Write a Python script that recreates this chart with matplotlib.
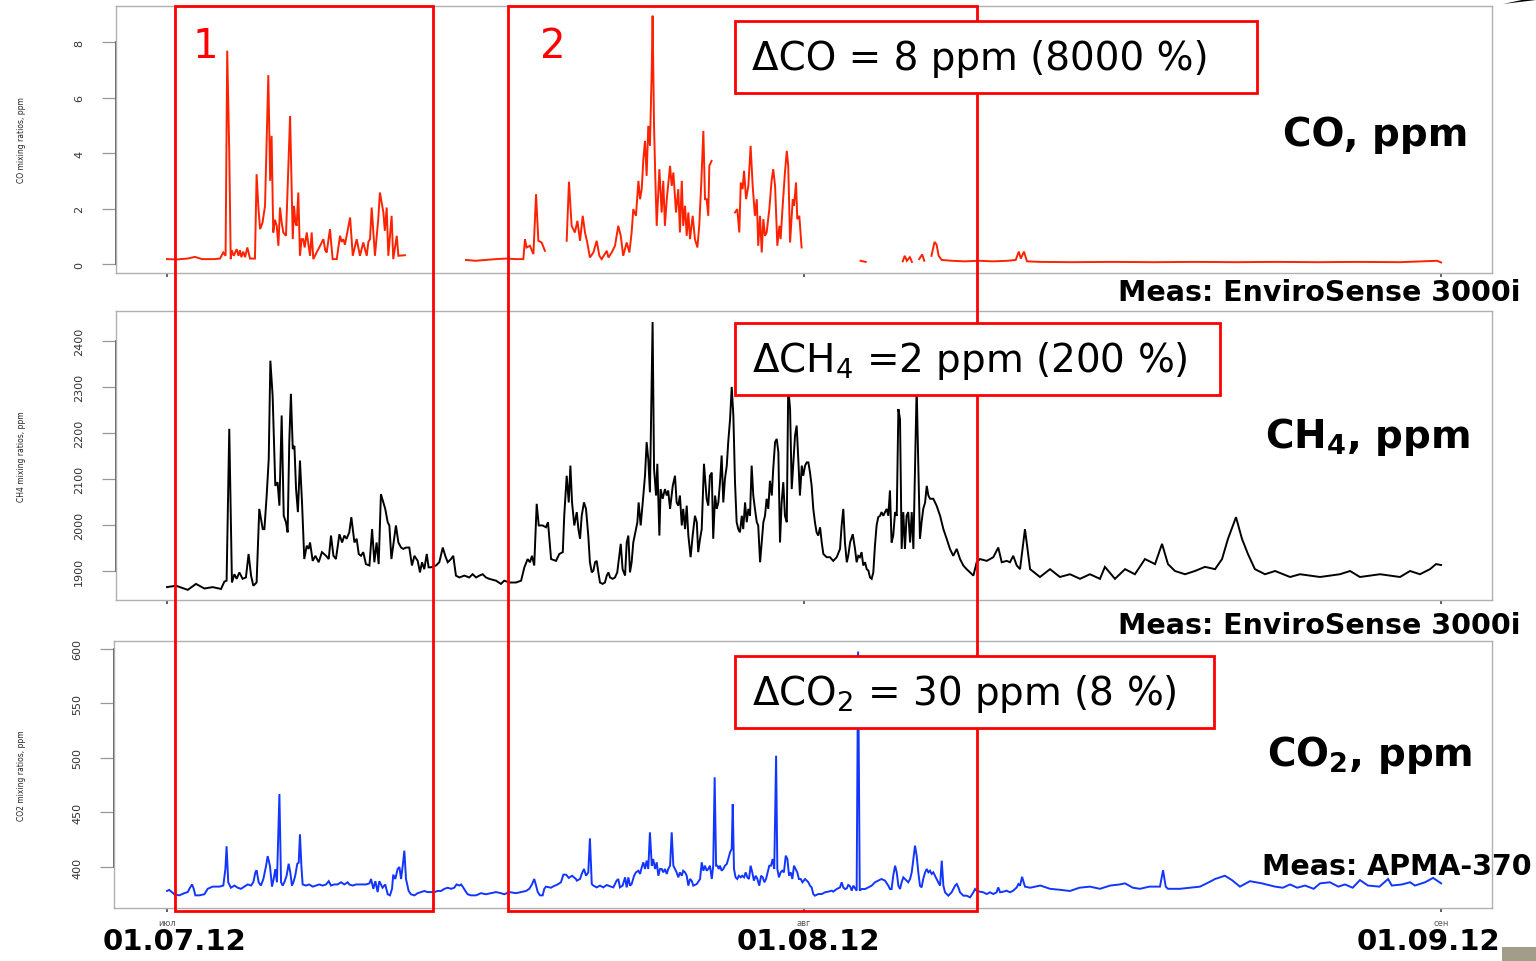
import numpy as np
import matplotlib
matplotlib.use('Agg')
import matplotlib.pyplot as plt
from matplotlib.patches import Rectangle, Polygon

plt.rcParams['font.family'] = ['DejaVu Sans']
plt.rcParams['mathtext.default'] = 'regular'

nan = np.nan

# ---------------- data (x = days since 01.07.2012) ----------------
co_day = [0.0, 0.5, 1.0, 1.36, 1.7, 2.3, 2.58, 2.74, 2.85, 2.93, 3.03, 3.10, 3.15, 3.25, 3.39, 3.48,
          3.55, 3.62, 3.71, 3.8, 3.91, 4.04, 4.28, 4.36, 4.45, 4.53, 4.65, 4.77, 4.93, 5.02, 5.09,
          5.17, 5.25, 5.34, 5.42, 5.50, 5.58, 5.66, 5.79, 5.99, 6.12, 6.18, 6.25, 6.31, 6.39, 6.47,
          6.55, 6.63, 6.70, 6.80, 6.96, 7.04, 7.12, 7.28, 7.45, 7.61, 7.70, 7.77, 7.93, 8.06, 8.26,
          8.42, 8.50, 8.58, 8.66, 8.74, 8.91, 9.04, 9.23, 9.39, 9.55, 9.72, 9.80, 9.88, 9.96, 10.12,
          10.28, 10.36, 10.53, 10.60, 10.69, 10.77, 10.93, 11.01, 11.18, 11.26, 11.58,
          13.0,
          14.55, 15.0, 15.5, 16.0, 16.5, 17.0, 17.34, 17.42, 17.50, 17.66, 17.83, 17.96, 18.07, 18.23,
          18.39,
          18.9,
          19.45, 19.56, 19.69, 19.85, 19.97, 20.10, 20.23, 20.34, 20.45, 20.58, 20.75, 20.91, 21.04,
          21.15, 21.40, 21.48, 21.64, 21.80, 21.96, 22.08, 22.20, 22.37, 22.50, 22.61, 22.69, 22.82,
          22.94, 23.02, 23.10, 23.18, 23.26, 23.34, 23.42, 23.50, 23.59, 23.63, 23.70, 23.76, 23.83,
          23.96, 24.07, 24.15, 24.23, 24.32, 24.48, 24.56, 24.64, 24.77, 24.88, 24.96, 25.05, 25.12,
          25.21, 25.29, 25.37, 25.45, 25.58, 25.69, 25.81, 25.90, 26.00, 26.10, 26.18, 26.26, 26.34,
          26.39, 26.50,
          27.0,
          27.64, 27.75, 27.85, 27.92, 28.01, 28.08, 28.18, 28.29, 28.40, 28.50, 28.61, 28.70, 28.77,
          28.86, 28.94, 29.02, 29.10, 29.18, 29.31, 29.42, 29.50, 29.59, 29.70, 29.80, 29.86, 29.96,
          30.07, 30.16, 30.23, 30.32, 30.45, 30.51, 30.61, 30.67, 30.77, 30.88,
          32.0,
          33.75, 34.0,
          34.5,
          35.8, 35.9, 36.0, 36.15, 36.25,
          36.4,
          36.6, 36.75, 36.85,
          37.0,
          37.2, 37.35, 37.45, 37.55, 37.7, 38.2, 38.8, 39.5, 40.2, 40.9, 41.3, 41.45, 41.55, 41.7,
          41.85, 42.5, 44.0, 46.0, 48.0, 50.0, 52.0, 54.0, 56.0, 58.0, 60.0, 61.8, 62.0]
co_val = [0.18, 0.17, 0.2, 0.26, 0.18, 0.18, 0.2, 0.42, 0.3, 7.69, 4.0, 0.18, 0.5, 0.3, 0.54, 0.3,
          0.5, 0.25, 0.45, 0.25, 0.6, 0.2, 0.2, 3.24, 2.0, 1.26, 1.5, 2.10, 6.81, 3.0, 4.62,
          1.14, 1.6, 1.38, 0.66, 2.04, 1.5, 1.14, 1.02, 5.34, 0.90, 2.10, 1.5, 1.38, 2.58, 0.30,
          0.9, 0.90, 0.6, 1.14, 0.30, 1.14, 0.18, 0.42, 0.66, 0.90, 0.5, 0.42, 1.26, 0.18, 0.18,
          1.02, 0.8, 0.90, 0.7, 1.02, 1.68, 0.30, 0.90, 0.30, 0.78, 0.30, 0.8, 0.90, 2.04, 0.30,
          1.62, 2.58, 1.86, 1.2, 2.04, 0.30, 1.74, 0.18, 1.02, 0.30, 0.32,
          nan,
          0.15, 0.12, 0.15, 0.18, 0.2, 0.18, 0.18, 0.90, 0.60, 0.66, 0.36, 2.52, 0.84, 0.78,
          0.48,
          nan,
          0.84, 2.97, 1.38, 1.14, 1.56, 0.84, 1.74, 1.14, 0.78, 0.24, 0.42, 0.84, 0.30,
          0.18, 0.48, 0.24, 0.42, 0.66, 1.38, 1.02, 0.30, 0.78, 0.42, 1.14, 1.98, 1.74,
          3.00, 2.34, 2.70, 3.78, 4.44, 3.18, 4.98, 4.26, 7.03, 8.95, 4.98, 3.18, 1.38,
          3.42, 1.86, 3.00, 1.38, 2.34, 3.54, 2.82, 3.30, 1.86, 2.70, 1.14, 3.00, 1.38,
          2.10, 1.02, 1.86, 0.90, 1.74, 0.90, 0.60, 1.38, 2.94, 4.80, 2.34, 2.34, 1.74,
          3.54, 3.72,
          nan,
          1.86, 1.98, 1.14, 2.94, 2.70, 3.36, 2.34, 2.82, 4.26, 2.82, 1.74, 2.34, 0.66,
          1.74, 0.42, 1.62, 1.02, 1.14, 1.98, 3.00, 3.42, 2.82, 0.66, 1.38, 0.90, 2.10,
          3.30, 4.08, 3.54, 0.78, 2.34, 2.10, 2.94, 1.62, 1.74, 0.60,
          nan,
          0.12, 0.08,
          nan,
          0.1, 0.3, 0.12, 0.25, 0.08,
          nan,
          0.18, 0.35, 0.12,
          nan,
          0.3, 0.8, 0.7, 0.3, 0.15, 0.12, 0.1, 0.12, 0.1, 0.12, 0.15, 0.45, 0.2, 0.45,
          0.1, 0.08, 0.07, 0.08, 0.07, 0.08, 0.07, 0.08, 0.07, 0.08, 0.07, 0.12, 0.06]

ch4_day = [0.0, 0.44, 1.01, 1.41, 1.82, 2.22, 2.63, 2.79, 2.90, 3.03, 3.16, 3.28, 3.39, 3.52, 3.68,
           3.84, 3.97, 4.09, 4.20, 4.36, 4.49, 4.66, 4.74, 4.85, 4.95, 5.03, 5.14, 5.27, 5.38, 5.47,
           5.58, 5.68, 5.79, 5.87, 5.95, 6.03, 6.12, 6.20, 6.28, 6.37, 6.47, 6.57, 6.68, 6.80, 6.89,
           6.96, 7.09, 7.22, 7.38, 7.54, 7.74, 7.87, 7.98, 8.10, 8.22, 8.39, 8.52, 8.63, 8.74, 8.87,
           8.97, 9.12, 9.23, 9.33, 9.44, 9.55, 9.68, 9.85, 9.98, 10.09, 10.20, 10.30, 10.41, 10.53,
           10.62, 10.74, 10.82, 10.92, 11.03, 11.14, 11.26, 11.39, 11.50, 11.63, 11.79, 11.92, 12.04,
           12.20, 12.31, 12.41, 12.52, 12.64, 12.73, 12.85, 13.09, 13.25, 13.42, 13.54, 13.66, 13.82,
           13.93, 14.06, 14.23, 14.47, 14.71, 14.87, 15.04, 15.20, 15.36, 15.52, 15.68, 16.01, 16.25,
           16.41, 16.66, 16.98, 17.23, 17.39, 17.55, 17.66, 17.76, 17.87, 17.99, 18.09, 18.28, 18.44,
           18.54, 18.69, 18.93, 19.09, 19.26, 19.33, 19.45, 19.55, 19.63, 19.71, 19.82,
           19.94, 20.02, 20.10, 20.18, 20.29, 20.39, 20.50, 20.58, 20.67, 20.75, 20.83, 20.91, 20.99,
           21.07, 21.20, 21.31, 21.40, 21.48, 21.56, 21.69, 21.80, 21.91, 22.01, 22.08, 22.17, 22.29,
           22.37, 22.45, 22.53, 22.61, 22.69, 22.79, 22.89, 22.95, 23.05, 23.15, 23.26, 23.34, 23.42,
           23.50, 23.63, 23.70, 23.80, 23.86, 23.96, 24.02, 24.12, 24.23, 24.32, 24.39, 24.48, 24.61,
           24.72, 24.80, 24.88, 24.96, 25.05, 25.12, 25.21, 25.29, 25.37, 25.48, 25.58, 25.69, 25.78,
           25.85, 25.94, 26.02, 26.13, 26.26, 26.34, 26.42, 26.51, 26.58, 26.67, 26.75, 26.83, 26.91,
           26.99, 27.07, 27.15, 27.24, 27.31, 27.40, 27.48, 27.56, 27.64, 27.72, 27.80, 27.88, 27.97,
           28.04, 28.13, 28.21, 28.29, 28.37, 28.45, 28.53, 28.61, 28.70, 28.77, 28.86, 28.94, 29.02,
           29.10, 29.18, 29.26, 29.34, 29.43, 29.50, 29.59, 29.67, 29.75, 29.83, 29.91, 29.99, 30.07,
           30.16, 30.23, 30.32, 30.40, 30.48, 30.56, 30.64, 30.72, 30.80, 30.89, 30.96, 31.05, 31.13,
           31.21, 31.29, 31.37, 31.45, 31.53, 31.61, 31.69, 31.78, 31.86, 31.94, 32.10, 32.26, 32.42,
           32.59, 32.75, 32.83, 32.91, 32.99, 33.08, 33.15, 33.24, 33.37, 33.48, 33.56, 33.64, 33.72,
           33.80, 33.88, 33.97, 34.05, 34.13, 34.21, 34.29, 34.37, 34.45, 34.53, 34.61, 34.70, 34.77,
           34.86, 34.94, 35.02, 35.10, 35.18, 35.26, 35.34, 35.43, 35.51, 35.59, 35.67, 35.75, 35.83,
           35.91, 35.99, 36.07, 36.16, 36.24, 36.32, 36.40, 36.48, 36.56, 36.64, 36.72, 36.80, 36.89,
           36.97, 37.05, 37.13, 37.29, 37.45, 37.62, 37.78, 37.94, 38.10, 38.26, 38.43, 38.59, 38.75,
           38.91, 39.08, 39.24, 39.40, 39.56, 39.89, 40.21, 40.45, 40.62, 40.86, 41.02, 41.18, 41.35,
           41.51, 41.75, 42.0, 42.48, 42.97, 43.45, 43.94, 44.43, 44.91, 45.40, 45.64, 46.13, 46.62,
           47.10, 47.59, 48.08, 48.42, 48.71, 49.05, 49.54, 50.02, 50.51, 51.0, 51.34, 51.63, 52.02,
           52.31, 52.60, 52.94, 53.43, 53.92, 54.65, 55.13, 56.11, 57.08, 57.57, 58.05, 59.03, 60.0,
           60.49, 60.97, 61.46, 61.75, 62.0]
ch4_val = [1865, 1868, 1859, 1872, 1862, 1865, 1861, 1877, 1879, 2209, 1875, 1893, 1883, 1897, 1883,
           1886, 1937, 1890, 1868, 1875, 2035, 1991, 1991, 2064, 2143, 2357, 2281, 2085, 2093, 2042,
           2238, 2020, 2006, 1984, 2180, 2285, 2165, 2172, 2078, 2028, 2140, 2049, 1926, 1955, 1948,
           1962, 1922, 1933, 1919, 1941, 1933, 1926, 1977, 1933, 1926, 1980, 1962, 1977, 1970, 1984,
           2017, 1962, 1970, 1937, 1933, 1941, 1915, 1912, 1991, 1919, 1962, 1915, 2067, 2049,
           2035, 2006, 1999, 1926, 1962, 1999, 1962, 1951, 1948, 1951, 1951, 1912, 1933,
           1922, 1897, 1919, 1904, 1937, 1908, 1908, 1912, 1919, 1951, 1933, 1919, 1926,
           1933, 1890, 1886, 1890, 1886, 1893, 1886, 1890, 1893, 1886, 1883, 1879, 1872,
           1879, 1875, 1875, 1879, 1908, 1926, 1919, 1933, 1912, 2046, 1999, 1999, 1995,
           2006, 1926, 1922, 1937, 1941, 2020, 2107, 2049, 2129, 2049, 1999,
           2028, 1991, 1970, 2020, 2049, 2035, 1977, 1919, 1897, 1901, 1919, 1922, 1897,
           1875, 1872, 1875, 1890, 1897, 1886, 1883, 1886, 1897, 1933, 1959, 1904, 1890,
           1962, 1977, 1897, 1919, 1962, 1984, 2006, 2049, 1999, 2049, 2107, 2180, 2143,
           2071, 2441, 2122, 2064, 2133, 1977, 2078, 2057, 2078, 2064, 2075, 2035, 2085,
           2107, 2049, 2042, 2064, 1999, 2035, 1991, 2042, 1977, 1930, 1977, 2020, 2006,
           1941, 1970, 1991, 2133, 2057, 2042, 2107, 2114, 1970, 2064, 2035, 2049, 2093,
           2151, 2049, 2100, 2129, 2180, 2230, 2300, 2238, 2093, 2006, 1991, 1984, 2020,
           1991, 2049, 2006, 2035, 2020, 2129, 2064, 2035, 2006, 1999, 1919, 1962, 2006,
           2020, 2057, 2035, 2096, 2064, 2122, 2180, 2187, 2158, 1962, 2049, 2093, 2020,
           2006, 2300, 2252, 2078, 2136, 2194, 2216, 2143, 2064, 2129, 2107, 2129, 2136,
           2136, 2114, 2085, 2035, 2006, 1984, 1977, 1995, 1962, 1937, 1930, 1930, 1922,
           1930, 1948, 1999, 2035, 1962, 1919, 1933, 1962, 1980, 1948, 1919, 1933, 1930,
           1941, 1912, 1919, 1904, 1901, 1886, 1883, 1897, 1955, 1999, 2017, 2020, 2028,
           2020, 2028, 2035, 2020, 2075, 1962, 1977, 2028, 2020, 2252, 2230, 1948, 2028,
           1948, 2020, 2028, 1962, 2028, 1948, 2122, 2300, 2129, 1970, 2006, 2035, 2049,
           2085, 2064, 2057, 2057, 2042, 2020, 1991, 1970, 1948, 1933, 1948, 1926, 1912,
           1904, 1897, 1890, 1919, 1926, 1922, 1930, 1951, 1919, 1922, 1919, 1933, 1912,
           1904, 1991, 1904, 1887, 1904, 1887, 1893, 1883, 1893, 1883, 1909, 1883, 1904,
           1893, 1926, 1915, 1959, 1915, 1900, 1893, 1900, 1909, 1904, 1926, 1970, 2017,
           1970, 1937, 1904, 1893, 1900, 1887, 1893, 1887, 1893, 1900, 1887, 1893, 1887,
           1900, 1893, 1904, 1915, 1913]

co2_day = [0.0, 0.11, 0.36, 0.60, 0.84, 1.01, 1.12, 1.22, 1.30, 1.38, 1.57, 1.82, 1.98, 2.22, 2.55,
           2.74, 2.84, 2.90, 2.98, 3.11, 3.28, 3.44, 3.60, 3.76, 3.93, 4.09, 4.20, 4.30, 4.36, 4.46,
           4.57, 4.69, 4.82, 4.90, 5.01, 5.11, 5.19, 5.27, 5.35, 5.47, 5.55, 5.63, 5.71, 5.82, 5.92,
           6.00, 6.08, 6.15, 6.24, 6.34, 6.41, 6.47, 6.54, 6.60, 6.76, 6.92, 7.09, 7.25, 7.41, 7.57,
           7.74, 7.87, 7.98, 8.14, 8.30, 8.47, 8.63, 8.79, 8.87, 9.04, 9.20, 9.36, 9.52, 9.68, 9.85,
           9.93, 10.04, 10.14, 10.25, 10.33, 10.41, 10.49, 10.62, 10.74, 10.85, 10.95, 11.01, 11.11,
           11.22, 11.31, 11.39, 11.47, 11.55, 11.63, 11.76, 11.87, 12.04, 12.20, 12.36, 12.52, 12.68,
           12.85, 13.01, 13.17, 13.33, 13.50, 13.66, 13.82, 13.98, 14.09, 14.23, 14.31, 14.39, 14.52,
           14.63, 14.79, 15.04, 15.28, 15.52, 15.77, 16.01, 16.25, 16.41, 16.66, 16.98, 17.23, 17.47,
           17.63, 17.76, 17.87, 17.96, 18.04, 18.15, 18.28, 18.36, 18.44, 18.69, 18.77, 19.01, 19.17,
           19.29, 19.42, 19.55, 19.71, 19.90,
           19.94, 20.10, 20.18, 20.29, 20.39, 20.50, 20.58, 20.67, 20.75, 20.91, 21.07, 21.23, 21.40,
           21.56, 21.72, 21.88, 21.96, 22.04, 22.17, 22.29, 22.37, 22.45, 22.53, 22.61, 22.73, 22.82,
           22.94, 23.02, 23.10, 23.18, 23.26, 23.34, 23.42, 23.50, 23.59, 23.66, 23.75, 23.83, 23.91,
           23.99, 24.07, 24.15, 24.23, 24.32, 24.39, 24.48, 24.56, 24.64, 24.72, 24.80, 24.88, 24.96,
           25.05, 25.12, 25.21, 25.29, 25.37, 25.45, 25.53, 25.61, 25.78, 25.94, 26.02, 26.10, 26.18,
           26.26, 26.34, 26.42, 26.51, 26.58, 26.65, 26.72, 26.78, 26.85, 26.91, 26.99, 27.07, 27.15,
           27.24, 27.31, 27.40, 27.48, 27.53, 27.59, 27.67, 27.75, 27.83, 27.92, 27.99, 28.08, 28.16,
           28.24, 28.32, 28.40, 28.48, 28.56, 28.65, 28.73, 28.82, 28.91, 28.99, 29.07, 29.15, 29.23,
           29.31, 29.39, 29.47, 29.55, 29.64, 29.70, 29.78, 29.86, 29.94, 30.02, 30.11, 30.19, 30.27,
           30.35, 30.43, 30.51, 30.59, 30.67, 30.75, 30.84, 30.92, 31.05, 31.13, 31.21, 31.29, 31.37,
           31.45, 31.53, 31.69, 31.86, 32.02, 32.18, 32.35, 32.42, 32.59, 32.75, 32.83, 32.91, 32.99,
           33.08, 33.15, 33.24, 33.32, 33.40, 33.56, 33.63, 33.71, 33.80, 33.97, 34.13, 34.29, 34.45,
           34.61, 34.77, 34.94, 35.10, 35.18, 35.26, 35.34, 35.43, 35.51, 35.59, 35.67, 35.75, 35.83,
           35.91, 35.99, 36.07, 36.16, 36.24, 36.32, 36.40, 36.48, 36.56, 36.64, 36.72, 36.80, 36.89,
           36.97, 37.05, 37.13, 37.21, 37.29, 37.37, 37.45, 37.53, 37.62, 37.70, 37.78, 37.86, 38.02,
           38.18, 38.35, 38.43, 38.51, 38.59, 38.75, 38.91, 39.08, 39.24, 39.32, 39.40, 39.56, 39.72,
           39.89, 40.05, 40.21, 40.37, 40.45, 40.54, 40.70, 40.86, 41.02, 41.18, 41.35, 41.43, 41.51,
           41.61, 41.75, 42.0, 42.5, 42.97, 43.5, 43.94, 44.4, 44.91, 45.40, 45.9, 46.37, 46.62,
           47.0, 47.35, 47.8, 48.32, 48.47, 48.6, 48.71, 49.29, 49.8, 50.27, 50.7, 51.0, 51.48,
           51.82, 52.21, 52.70, 53.28, 53.92, 54.3, 54.65, 55.0, 55.38, 55.8, 56.11, 56.59, 57.0,
           57.32, 57.7, 58.05, 58.44, 59.0, 59.42, 59.6, 60.10, 60.49, 60.73, 61.22, 61.61, 62.0]
co2_val = [378, 379, 375, 374, 376, 377, 381, 384, 380, 374, 374, 375, 380, 382, 382,
           383, 398, 419, 386, 381, 383, 381, 380, 382, 384, 383, 386, 395, 397, 386,
           383, 389, 401, 410, 401, 382, 389, 398, 386, 467, 386, 383, 386, 392, 403,
           395, 383, 386, 392, 403, 404, 430, 401, 384, 383, 384, 382, 383, 384, 383,
           384, 387, 383, 384, 384, 386, 384, 386, 384, 383, 384, 384, 384, 384, 385,
           389, 380, 387, 377, 387, 384, 381, 384, 375, 374, 380, 393, 389,
           398, 400, 389, 401, 415, 389, 378, 375, 374, 376, 377, 378, 377,
           377, 377, 378, 378, 380, 381, 380, 381, 384, 383, 384, 382, 378,
           375, 374, 374, 376, 375, 376, 377, 376, 375, 377, 376, 377, 378,
           380, 384, 389, 383, 377, 374, 374, 380, 382, 381, 382, 384, 386,
           393, 393, 390, 392, 389,
           387.5, 389, 393.6, 398.2, 392, 395.1, 426.3, 384.4, 382.9, 381.3, 382.9, 381.3, 383.5,
           382.3, 381.3, 387.5, 389, 381.3, 382.9, 390.5, 381.3, 390.5, 382.9, 384.4, 392, 395.1,
           396.6, 393.6, 399.7, 404.3, 398.2, 405.8, 398.2, 431.8, 401.2, 407.3, 398.2, 404.3, 392,
           398.2, 398.2, 395.1, 398.2, 393.6, 398.2, 401.2, 431.8, 401.2, 398.2, 395.1, 390.5, 395.1,
           392, 396.6, 395.1, 392, 382.9, 389, 387.5, 382.9, 384.4, 389, 404.3, 396.6, 401.2,
           396.6, 398.2, 401.2, 389, 401.2, 482.3, 401.2, 401.2, 398.2, 401.2, 396.6, 398.2, 401.2,
           402.8, 407.3, 413.5, 416.5, 457.8, 398.2, 390.5, 389, 392, 390.5, 392, 390.5, 395.1,
           390.5, 389, 401.2, 395.1, 387.5, 392, 389, 382.9, 392, 390.5, 386, 389, 395.1,
           401.2, 401.2, 407.3, 398.2, 502.1, 398.2, 390.5, 395.1, 396.6, 395.1, 410.4, 407.3, 392,
           395.1, 389, 401.2, 398.2, 395.1, 389, 389, 386, 389, 387.5, 386, 382.9, 381.3,
           375.2, 373.7, 375.2, 375.2, 376.8, 377.4, 378.3, 377.4, 379.8, 381.3, 386, 381.3, 379.8,
           380.4, 383.5, 382.3, 378.3, 382.9, 378.3, 597.6, 378.3, 379.8, 379.8, 381.3, 382.9, 386,
           387.5, 389, 387.5, 382.9, 379.8, 379.8, 392, 401.2, 395.1, 382.9, 379.8, 386, 390.5,
           389, 387.5, 386, 389, 395.1, 407.3, 419.6, 410.4, 395.1, 382.9, 381.3, 389, 395.1,
           398.2, 395.1, 396.6, 393.6, 395.1, 392, 389, 386, 382.9, 405.8, 382.9, 376.8, 373.7,
           376.8, 382.9, 384.4, 381.3, 376.8, 373.7, 373.7, 372.2, 376.8, 379.8, 378.3, 377.4, 376.8,
           375.2, 376.8, 375.2, 376.8, 381.3, 376.8, 377.4, 378.3, 376.8, 378.3, 381.3, 384.4, 382.9,
           391, 382, 381, 383, 380, 379, 378, 381, 382, 380, 383, 384, 385,
           381, 380, 382, 382, 397, 382, 380, 380, 381, 382, 386, 389, 392,
           388, 382, 387, 385, 382, 381, 384, 381, 383, 380, 385, 386, 382,
           384, 381, 388, 383, 382, 389, 383, 384, 386, 383, 386, 390, 385]

co_ticks = [0, 2, 4, 6, 8]
ch4_ticks = [1900, 2000, 2100, 2200, 2300, 2400]
co2_ticks = [400, 450, 500, 550, 600]
month_ticks = [0, 31, 62]
month_labels = ['июл', 'авг', 'сен']
date_labels = ['01.07.12', '01.08.12', '01.09.12']

# ---------------- layout ----------------
W, H = 1536, 962
fig = plt.figure(figsize=(W / 100, H / 100), dpi=100)
fig.patch.set_facecolor('white')

PX_PER_DAY = 20.55
X0 = 167


def frac(l, t, r, b):
    return [l / W, 1 - b / H, (r - l) / W, (b - t) / H]


def xlim_for(l, r):
    return ((l - X0) / PX_PER_DAY, (r - X0) / PX_PER_DAY)


panels = [
    dict(box=(116, 7, 1492, 274), ylim=(-0.32, 9.30), ticks=co_ticks,
         label='CO mixing ratios, ppm', x=co_day, y=co_val, color='#ff2200', bottom=False),
    dict(box=(116, 312, 1492, 601), ylim=(1837, 2465), ticks=ch4_ticks,
         label='CH4 mixing ratios, ppm', x=ch4_day, y=ch4_val, color='black', bottom=False),
    dict(box=(114, 642, 1492, 909), ylim=(362.4, 607.3), ticks=co2_ticks,
         label='CO2 mixing ratios, ppm', x=co2_day, y=co2_val, color='#1236ff', bottom=True),
]

for p in panels:
    l, t, r, b = p['box']
    ax = fig.add_axes(frac(l, t, r, b))
    ax.plot(p['x'], p['y'], color=p['color'], lw=1.4, solid_joinstyle='miter')
    ax.set_xlim(*xlim_for(l, r))
    ax.set_ylim(*p['ylim'])
    for s in ax.spines.values():
        s.set_color('#b0b0b0')
        s.set_linewidth(1.0)
    # darker axis line between the first and last tick (R style)
    ax.plot([0, 0], [p['ticks'][0], p['ticks'][-1]], transform=ax.get_yaxis_transform(),
            color='#555555', lw=1.3, clip_on=False)
    ax.set_yticks(p['ticks'])
    ax.set_yticklabels([str(v) for v in p['ticks']], rotation=90, va='center')
    ax.tick_params(axis='y', length=10, width=0.9, color='#999999', pad=13,
                   labelsize=8, labelcolor='#333333')
    ax.set_xticks(month_ticks)
    if p['bottom']:
        ax.set_xticklabels(month_labels)
    else:
        ax.set_xticklabels([])
    ax.tick_params(axis='x', length=3, width=1.2, color='#444444', pad=4,
                   labelsize=6, labelcolor='#555555')
    ax.set_ylabel(p['label'], fontsize=5.5, color='#222222')
    ax.yaxis.set_label_coords((26 - l) / (r - l), 0.5)

# ---------------- overlay (annotations) ----------------
ov = fig.add_axes([0, 0, 1, 1], zorder=10)
ov.set_xlim(0, W)
ov.set_ylim(H, 0)
ov.axis('off')
ov.patch.set_alpha(0)

red = '#ff0000'
for (l, t, r, b) in [(175, 7, 433, 912), (508, 7, 977, 912)]:
    ov.add_patch(Rectangle((l, t), r - l, b - t, fill=False, ec=red, lw=2.0))
ov.text(205, 47, '1', color=red, fontsize=29, ha='center', va='center')
ov.text(553, 47, '2', color=red, fontsize=29, ha='center', va='center')

boxes = [((735, 22, 1257, 94), 'ΔCO = 8 ppm (8000 %)'),
         ((735, 324, 1220, 396), r'ΔCH$_4$ =2 ppm (200 %)'),
         ((735, 657, 1214, 729), r'ΔCO$_2$ = 30 ppm (8 %)')]
for (l, t, r, b), s in boxes:
    ov.add_patch(Rectangle((l, t), r - l, b - t, fc='white', ec=red, lw=2.0))
    ov.text(752, (t + b) / 2 + 1, s, fontsize=28, ha='left', va='center', color='black')

ov.text(1468, 135, 'CO, ppm', fontsize=28, fontweight='bold', ha='right', va='center')
ov.text(1470, 437, r'CH$_4$, ppm', fontsize=28, fontweight='bold', ha='right', va='center')
ov.text(1472, 755, r'CO$_2$, ppm', fontsize=28, fontweight='bold', ha='right', va='center')
ov.text(1520, 293, 'Meas: EnviroSense 3000i', fontsize=20.5, fontweight='bold',
        ha='right', va='center')
ov.text(1520, 626, 'Meas: EnviroSense 3000i', fontsize=20.5, fontweight='bold',
        ha='right', va='center')
ov.text(1532, 867, 'Meas: APMA-370', fontsize=20.5, fontweight='bold',
        ha='right', va='center')

for xpos, s in zip([174, 808, 1428], date_labels):
    ov.text(xpos, 942, s, fontsize=21, fontweight='bold', ha='center', va='center')

# corner decorations from the slide
ov.add_patch(Polygon([(1503, 5), (1536, -2), (1536, 1)], closed=True, fc='black', ec='none'))
ov.add_patch(Rectangle((1502, 948), 34, 14, fc='#a29d88', ec='none'))

fig.savefig('out.png', dpi=100, facecolor='white')
